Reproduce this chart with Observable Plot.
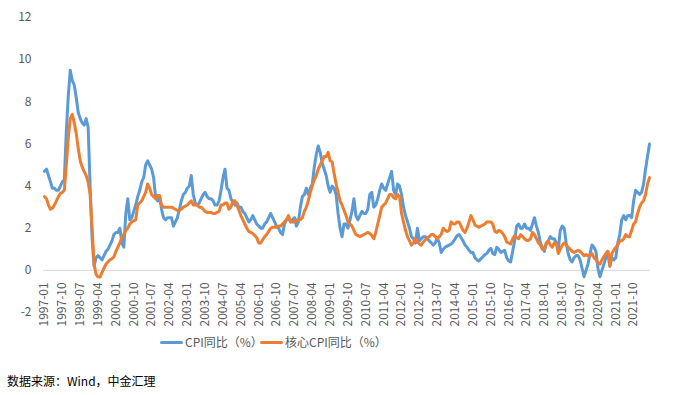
<!DOCTYPE html>
<html>
<head>
<meta charset="utf-8">
<script src="https://cdn.jsdelivr.net/npm/d3@7"></script>
<script src="https://cdn.jsdelivr.net/npm/@observablehq/plot@0.6"></script>
<style>
  html, body { margin: 0; padding: 0; background: #fff; }
  #wrap { position: relative; width: 674px; height: 395px; font-family: "Noto Sans CJK SC", "Open Sans", sans-serif; }
  #chart { position: absolute; left: 0; top: 0; }
  .legend { position: absolute; top: 334px; left: 0; height: 16px; font-size: 12px; color: #595959; }
  .item { position: absolute; top: 0; white-space: nowrap; line-height: 16px; }
  .swatch { position: absolute; top: 7px; width: 23px; height: 3px; border-radius: 1.5px; }
  .source { position: absolute; left: 7px; top: 373px; font-size: 12px; color: #000; white-space: nowrap; line-height: 16px; }
</style>
</head>
<body>
<div id="wrap">
  <div id="chart"></div>
  <div class="legend">
    <div class="swatch" style="left:160px;background:#5B9BD5"></div>
    <div class="item" style="left:185px">CPI同比（%）</div>
    <div class="swatch" style="left:260px;background:#ED7D31"></div>
    <div class="item" style="left:285px">核心CPI同比（%）</div>
  </div>
  <div class="source">数据来源：Wind，中金汇理</div>
</div>
<script>
// Monthly categories 1997-01 .. 2022-06
const startYear = 1997;
const months = [];
for (let y = startYear; y <= 2022; y++) {
  for (let m = 1; m <= 12; m++) {
    if (y === 2022 && m > 6) break;
    months.push(`${y}-${String(m).padStart(2, "0")}`);
  }
}

// CPI 同比 (%)
const cpi = [
  4.7, 4.8, 4.5, 4.2, 3.9, 3.9, 3.8, 3.8, 4.0, 4.2, 4.3, 6.6,
  8.3, 9.5, 9.0, 8.8, 8.2, 7.5, 7.2, 7.0, 6.9, 7.2, 6.8, 4.0,
  1.5, 0.2, 0.6, 0.7, 0.6, 0.5, 0.7, 0.9, 1.0, 1.2, 1.4, 1.7,
  1.8, 1.8, 2.0, 1.3, 1.1, 2.7, 3.4, 2.4, 2.5, 2.8, 3.1, 3.5,
  3.8, 4.2, 4.4, 5.0, 5.2, 5.0, 4.8, 4.4, 3.5, 3.3, 3.5, 2.9,
  2.5, 2.4, 2.5, 2.5, 2.5, 2.1, 2.3, 2.5, 2.9, 3.3, 3.6, 3.7,
  3.9, 4.0, 4.5, 3.6, 3.2, 3.1, 3.2, 3.4, 3.6, 3.7, 3.5, 3.4,
  3.4, 3.3, 3.1, 3.1, 3.3, 3.8, 4.4, 4.8, 3.9, 3.8, 3.4, 3.2,
  3.1, 3.2, 3.0, 3.0, 2.8, 2.7, 2.5, 2.3, 2.4, 2.6, 2.4, 2.2,
  2.1, 2.0, 2.0, 2.2, 2.3, 2.5, 2.7, 2.5, 2.3, 2.1, 2.0, 1.8,
  1.7, 2.2, 2.4, 2.5, 2.3, 2.4, 2.5, 2.1, 2.3, 3.0, 3.5, 3.6,
  3.9, 3.6, 3.9, 4.1, 4.9, 5.5, 5.9, 5.6, 5.1, 4.8, 4.5, 4.0,
  3.7, 4.0, 3.9, 3.6, 2.7, 2.0, 1.6, 2.2, 2.2, 2.0, 2.4, 2.8,
  3.4, 2.6, 2.4, 2.6, 2.8, 2.7, 2.7, 2.9, 3.6, 3.7, 3.0, 3.1,
  3.4, 3.8, 4.1, 3.9, 3.8, 4.1, 4.4, 4.7, 3.8, 3.6, 4.1, 4.0,
  3.6, 3.0, 2.6, 2.3, 2.0, 1.6, 1.5, 1.3, 2.0, 1.4, 1.5, 1.6,
  1.6, 1.5, 1.4, 1.3, 1.2, 1.3, 1.55, 1.3, 0.85, 1.0, 1.1, 1.15,
  1.2, 1.25, 1.35, 1.5, 1.65, 1.7, 1.55, 1.4, 1.2, 1.1, 0.95, 0.85,
  0.85, 0.6, 0.5, 0.45, 0.55, 0.65, 0.75, 0.8, 0.95, 1.05, 0.8, 0.75,
  1.1, 1.0, 0.85, 0.9, 0.95, 0.6, 0.45, 0.4, 0.9, 1.4, 2.1, 2.2,
  2.0, 2.0, 2.2, 2.0, 2.0, 1.9, 2.2, 2.5, 2.1, 1.8, 1.3, 1.1,
  0.9, 1.3, 1.4, 1.6, 1.5, 1.5, 1.3, 1.0, 1.9, 2.1, 2.0, 1.3,
  0.8, 0.5, 0.4, 0.6, 0.7, 0.7, 0.5, 0.1, -0.3, 0.0, 0.3, 0.8,
  1.2, 1.1, 0.9, 0.1, -0.3, 0.0, 0.3, 0.6, 0.9, 0.2, 0.6, 0.5,
  0.6, 1.3, 1.7, 2.4, 2.6, 2.4, 2.6, 2.6, 2.5, 3.3, 3.8, 3.7,
  3.6, 3.7, 4.1, 4.8, 5.4, 6.0
];

// 核心CPI 同比 (%)
const core = [
  3.5, 3.4, 3.1, 2.9, 2.95, 3.1, 3.3, 3.5, 3.65, 3.7, 3.8, 5.0,
  6.3, 7.2, 7.4, 7.0, 6.5, 5.8, 5.2, 4.9, 4.7, 4.5, 4.2, 3.6,
  2.0, 0.3, -0.2, -0.3, -0.32, -0.1, 0.1, 0.3, 0.4, 0.5, 0.55, 0.65,
  0.9, 1.1, 1.3, 1.55, 1.7, 1.9, 2.0, 2.2, 2.3, 2.35, 2.4, 3.1,
  3.2, 3.3, 3.5, 3.7, 4.1, 3.9, 3.6, 3.5, 3.4, 3.55, 3.55, 3.1,
  3.0, 3.0, 3.0, 3.0, 3.0, 2.95, 2.9, 2.85, 2.85, 2.9, 3.0, 3.05,
  3.1, 3.2, 3.3, 3.1, 3.1, 3.1, 3.0, 3.0, 2.9, 2.8, 2.75, 2.75,
  2.75, 2.7, 2.7, 2.75, 2.8, 3.1, 3.1, 3.2, 3.2, 2.9, 3.0, 3.3,
  3.3, 3.1, 2.85, 2.6, 2.4, 2.2, 2.0, 1.85, 1.8, 1.75, 1.65, 1.55,
  1.3, 1.3, 1.45, 1.6, 1.7, 1.85, 2.0, 2.05, 2.05, 2.05, 2.1, 2.1,
  2.2, 2.3, 2.4, 2.6, 2.3, 2.3, 2.3, 2.4, 2.4, 2.4, 2.5, 2.8,
  3.0, 3.3, 3.7, 4.0, 4.3, 4.5, 4.8, 5.0, 5.2, 5.4, 5.4, 5.6,
  5.2, 5.15, 4.6, 4.1, 3.7, 3.3, 3.1, 2.85, 2.6, 2.3, 2.2, 2.1,
  1.9, 1.7, 1.65, 1.6, 1.65, 1.7, 1.75, 1.8, 1.75, 1.65, 1.5, 1.8,
  2.2, 2.6, 3.0, 3.1, 3.2, 3.4, 3.6, 3.6, 3.45, 3.4, 3.6, 3.5,
  2.7, 2.3, 1.9, 1.6, 1.4, 1.2, 1.3, 1.5, 1.35, 1.25, 1.2, 1.35,
  1.45, 1.55, 1.6, 1.7, 1.7, 1.6, 1.5, 1.6, 1.7, 2.0, 1.9, 1.85,
  1.9, 2.3, 2.2, 2.2, 2.3, 2.3, 2.1, 1.9, 1.8, 2.0, 2.3, 2.6,
  2.4, 2.15, 2.1, 2.05, 2.1, 2.15, 2.2, 2.3, 2.3, 2.3, 2.2, 1.85,
  1.8, 1.9, 1.85, 1.75, 1.6, 1.35, 1.3, 1.25, 1.5, 1.65, 1.55, 1.5,
  1.7, 1.6, 1.5, 1.42, 1.42, 1.5, 1.8, 1.7, 1.5, 1.3, 1.2, 1.0,
  1.0, 1.3, 1.4, 1.2, 1.1, 1.3, 1.3, 0.8, 1.0, 1.2, 1.3, 1.2,
  1.1, 1.0, 0.9, 0.85, 0.9, 0.95, 0.9, 0.8, 0.7, 0.75, 0.7, 0.7,
  0.8, 0.6, 0.5, 0.35, 0.3, 0.5, 0.65, 0.8, 0.9, 0.2, 0.8, 0.95,
  1.1, 1.2, 1.4, 1.4, 1.5, 1.7, 1.6, 1.6, 1.9, 2.2, 2.3, 2.7,
  3.0, 3.2, 3.3, 3.6, 4.1, 4.4
];

// Axis tick labels
const xTickLabels = [
  "1997-01","1997-10","1998-07","1999-04","2000-01","2000-10","2001-07","2002-04",
  "2003-01","2003-10","2004-07","2005-04","2006-01","2006-10","2007-07","2008-04",
  "2009-01","2009-10","2010-07","2011-04","2012-01","2012-10","2013-07","2014-04",
  "2015-01","2015-10","2016-07","2017-04","2018-01","2018-10","2019-07","2020-04",
  "2021-01","2021-10"
];
const yTicks = [-2, 0, 2, 4, 6, 8, 10, 12];

const rows = months.map((m, i) => ({i, month: m, cpi: cpi[i], core: core[i]}));
const tickRows = xTickLabels.map(t => ({i: months.indexOf(t), label: t, y: 0}));

const chart = Plot.plot({
  width: 674,
  height: 330,
  marginTop: 17,
  marginBottom: 18,
  marginLeft: 43,
  marginRight: 24,
  style: {fontFamily: "'Noto Sans CJK SC', 'Open Sans', sans-serif", fontSize: "12px", color: "#595959", background: "#fff"},
  x: {domain: [-0.5, months.length - 0.5], axis: null},
  y: {domain: [-2, 12], axis: null},
  marks: [
    Plot.ruleY([0], {stroke: "#d9d9d9", strokeWidth: 1}),
    Plot.axisY({ticks: yTicks, tickSize: 0, tickPadding: 12, tickFormat: d => String(d), fontSize: 12}),
    Plot.text(tickRows, {x: "i", y: "y", text: "label", rotate: -90, textAnchor: "end", dy: 12, fontSize: 12, fill: "#595959"}),
    Plot.line(rows, {x: "i", y: "cpi", stroke: "#5B9BD5", strokeWidth: 3, strokeLinejoin: "round", strokeLinecap: "round"}),
    Plot.line(rows, {x: "i", y: "core", stroke: "#ED7D31", strokeWidth: 3, strokeLinejoin: "round", strokeLinecap: "round"})
  ]
});
document.getElementById("chart").appendChild(chart);
</script>
</body>
</html>
